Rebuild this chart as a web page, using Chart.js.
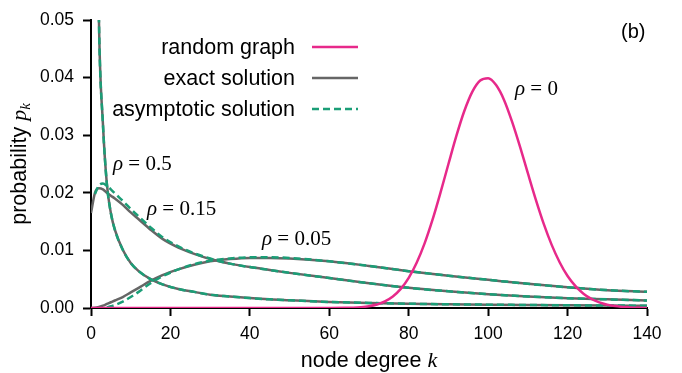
<!DOCTYPE html>
<html>
<head>
<meta charset="utf-8">
<script src="https://cdn.jsdelivr.net/npm/chart.js@4"></script>
<style>
  html, body { margin: 0; padding: 0; background: #ffffff; }
  #wrap { width: 682px; height: 373px; position: relative; }
</style>
</head>
<body>
<div id="wrap"><canvas id="c" width="682" height="373"></canvas></div>
<script>
// ---- data ----
const kGrid = [0,1,2,3,4,5,6,8,10,12,15,18,22,26,30,35,40,45,50,60,70,80,90,100,110,120,130,140];

const exactRho050 = [null,0.11,0.050,0.032,0.0215,0.0165,0.0136,0.0101,0.0078,0.0064,0.0050,0.0041,0.0033,0.0028,0.0023,0.0020,0.00172,0.0015,0.00135,0.00105,0.00088,0.00074,0.00065,0.00058,0.00052,0.00047,0.00043,0.0004];
const asymRho050  = [null,0.11,0.050,0.032,0.0215,0.0165,0.0136,0.0101,0.0078,0.0064,0.0050,0.0041,0.0033,0.0028,0.0023,0.0020,0.00172,0.0015,0.00135,0.00105,0.00088,0.00074,0.00065,0.00058,0.00052,0.00047,0.00043,0.0004];

const exactRho015 = [0.0165,0.0200,0.0208,0.0206,0.0200,0.0195,0.0190,0.0179,0.0166,0.0154,0.0136,0.0120,0.0105,0.0094,0.0085,0.0077,0.0071,0.0066,0.0061,0.0052,0.0043,0.0035,0.0029,0.0024,0.0020,0.0017,0.0015,0.0013];
const asymRho015  = [null,0.0198,0.0213,0.0216,0.0212,0.0206,0.0199,0.0186,0.0172,0.0159,0.0140,0.0123,0.0107,0.0095,0.0086,0.0077,0.0071,0.0066,0.0061,0.0052,0.0043,0.0035,0.0029,0.0024,0.0020,0.0017,0.0015,0.0013];

const exactRho005 = [0,0.00005,0.0002,0.0004,0.0007,0.0010,0.0013,0.0019,0.0027,0.0035,0.0047,0.0057,0.0067,0.0075,0.0081,0.0085,0.0087,0.0087,0.0086,0.0081,0.0073,0.0064,0.0056,0.0049,0.0042,0.0036,0.0031,0.0028];
const asymRho005  = [null,null,null,null,0.0001,0.0003,0.0005,0.0011,0.0019,0.0028,0.0043,0.0055,0.0067,0.0076,0.0082,0.0086,0.0088,0.0088,0.0087,0.0081,0.0073,0.0064,0.0056,0.0049,0.0042,0.0036,0.0031,0.0028];

const kRandom = [0,40,60,64,66,68,70,72,74,76,78,80,82,84,86,88,90,92,94,96,98,100,102,104,106,108,110,112,114,116,118,120,122,124,126,128,130,132,134,136,140];
const pRandom = [0,0,0,0.000025,0.000063,0.000146,0.00031,0.00061,0.00114,0.00199,0.00331,0.00522,0.00785,0.01122,0.01533,0.02003,0.0250,0.02988,0.0342,0.03753,0.0395,0.0399,0.0387,0.03613,0.0324,0.02806,0.0234,0.01882,0.0146,0.01096,0.00795,0.00555,0.00379,0.00249,0.00158,0.00097,0.00058,0.00033,0.00018,0.0001,0.00002];

const xTickValues = [0,20,40,60,80,100,120,140];
const yTickValues = [0,0.01,0.02,0.03,0.04,0.05];
const legendLabels = ['random graph','exact solution','asymptotic solution'];
const rhoLabels = ['0','0.5','0.15','0.05'];
const panelLabel = '(b)';

// ---- styles ----
const PINK = '#e7298a', GRAY = '#666666', GREEN = '#1b9e77';
const SANS = '"Liberation Sans", Arial, sans-serif';
const SERIF = '"Liberation Serif", "Times New Roman", serif';

function pts(xs, ys) { return xs.map((x, i) => ({ x: x, y: ys[i] })); }

function lineDs(label, data, color, dash, order) {
  return {
    label: label, data: data, borderColor: color, backgroundColor: color,
    borderWidth: 2.5, borderDash: dash || [], pointRadius: 0, fill: false,
    cubicInterpolationMode: 'monotone', spanGaps: false, order: order
  };
}

const datasets = [
  lineDs('random graph', pts(kRandom, pRandom), PINK, null, 0),
  lineDs('asym 0.5', pts(kGrid, asymRho050), GREEN, [7, 4], 1),
  lineDs('asym 0.15', pts(kGrid, asymRho015), GREEN, [7, 4], 1),
  lineDs('asym 0.05', pts(kGrid, asymRho005), GREEN, [7, 4], 1),
  lineDs('exact 0.5', pts(kGrid, exactRho050), GRAY, null, 2),
  lineDs('exact 0.15', pts(kGrid, exactRho015), GRAY, null, 2),
  lineDs('exact 0.05', pts(kGrid, exactRho005), GRAY, null, 2)
];

function drawParts(ctx, parts, x, y, align) {
  let total = 0;
  parts.forEach(p => { ctx.font = p.font; p.w = ctx.measureText(p.text).width; total += p.w; });
  let cx = align === 'right' ? x - total : (align === 'center' ? x - total / 2 : x);
  parts.forEach(p => {
    ctx.font = p.font;
    ctx.textAlign = 'left';
    ctx.textBaseline = 'alphabetic';
    ctx.fillText(p.text, cx, y + (p.dy || 0));
    cx += p.w;
  });
}

const textPlugin = {
  id: 'texts',
  afterDraw(chart) {
    const ctx = chart.ctx;
    ctx.save();
    ctx.fillStyle = '#000000';

    // x-axis title
    drawParts(ctx, [
      { text: 'node degree ', font: '21.5px ' + SANS },
      { text: 'k', font: 'italic 22px ' + SERIF }
    ], (chart.chartArea.left + chart.chartArea.right) / 2, 367, 'center');

    // y-axis title (rotated)
    ctx.save();
    ctx.translate(26, (chart.chartArea.top + chart.chartArea.bottom) / 2);
    ctx.rotate(-Math.PI / 2);
    drawParts(ctx, [
      { text: 'probability ', font: '21.5px ' + SANS },
      { text: 'p', font: 'italic 22px ' + SERIF },
      { text: 'k', font: 'italic 15px ' + SERIF, dy: 4 }
    ], 0, 0, 'center');
    ctx.restore();

    // rho annotations
    const rhoPos = [[515, 95], [113, 170], [147, 215], [262, 245]];
    rhoLabels.forEach((r, i) => {
      drawParts(ctx, [
        { text: 'ρ', font: 'italic 21px ' + SERIF },
        { text: ' = ' + r, font: '21px ' + SERIF }
      ], rhoPos[i][0], rhoPos[i][1], 'left');
    });

    // panel label
    ctx.font = '20px ' + SANS;
    ctx.textAlign = 'left';
    ctx.textBaseline = 'alphabetic';
    ctx.fillText(panelLabel, 621, 38);

    // legend
    const legColors = [PINK, GRAY, GREEN];
    const legDash = [[], [], [7, 4]];
    const legY = [47, 78, 109];
    legendLabels.forEach((t, i) => {
      ctx.font = '21.5px ' + SANS;
      ctx.textAlign = 'right';
      ctx.textBaseline = 'middle';
      ctx.fillStyle = '#000000';
      ctx.fillText(t, 295, legY[i] + 1);
      ctx.beginPath();
      ctx.setLineDash(legDash[i]);
      ctx.strokeStyle = legColors[i];
      ctx.lineWidth = 2.5;
      ctx.moveTo(312, legY[i]);
      ctx.lineTo(358, legY[i]);
      ctx.stroke();
      ctx.setLineDash([]);
    });
    ctx.restore();
  }
};

new Chart(document.getElementById('c'), {
  type: 'line',
  data: { datasets: datasets },
  options: {
    responsive: false,
    animation: false,
    devicePixelRatio: 1,
    layout: { padding: { left: 0, right: 35, top: 20, bottom: 0 } },
    plugins: { legend: { display: false }, tooltip: { enabled: false } },
    scales: {
      x: {
        type: 'linear', min: 0, max: 140,
        afterBuildTicks: s => { s.ticks = xTickValues.map(v => ({ value: v })); },
        afterFit: s => { s.height = 65; },
        grid: { display: true, drawOnChartArea: false, drawTicks: true, tickLength: 8, tickWidth: 2, tickColor: '#000' },
        border: { display: true, color: '#000', width: 2 },
        ticks: { color: '#000', font: { family: SANS, size: 17.5 }, padding: 8, maxRotation: 0, callback: v => String(v) }
      },
      y: {
        type: 'linear', min: 0, max: 0.05,
        afterBuildTicks: s => { s.ticks = yTickValues.map(v => ({ value: v })); },
        afterFit: s => { s.width = 91; },
        grid: { display: true, drawOnChartArea: false, drawTicks: true, tickLength: 8, tickWidth: 2, tickColor: '#000' },
        border: { display: true, color: '#000', width: 2 },
        ticks: { color: '#000', font: { family: SANS, size: 17.5 }, padding: 9, callback: v => Number(v).toFixed(2) }
      }
    }
  },
  plugins: [textPlugin]
});
</script>
</body>
</html>
